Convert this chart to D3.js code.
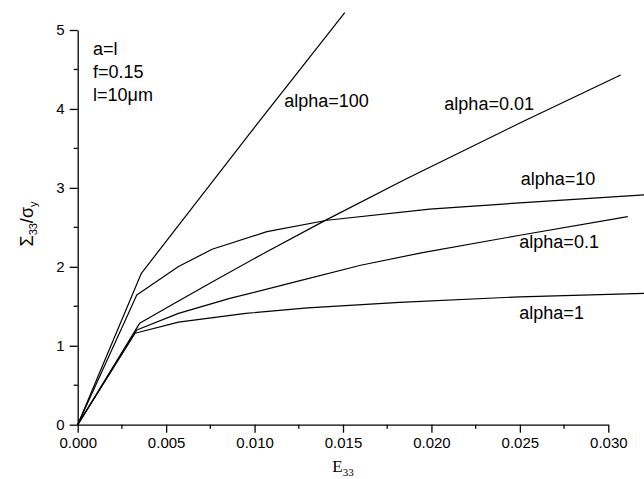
<!DOCTYPE html>
<html>
<head>
<meta charset="utf-8">
<script src="https://cdn.jsdelivr.net/npm/d3@7/dist/d3.min.js"></script>
<style>
  html, body { margin: 0; padding: 0; background: #fff; }
  svg { display: block; }
  text { font-family: "Liberation Sans", Arial, sans-serif; fill: #000; }
</style>
</head>
<body>
<svg id="chart" width="644" height="479"></svg>
<script>
// Macroscopic stress–strain response for several values of alpha
// Each series: [E33, Sigma33/sigma_y] pairs
const alpha100 = [[0, 0], [0.0036, 1.918], [0.0098, 3.71], [0.0151, 5.22]];
const alpha001 = [[0, 0], [0.0035, 1.284], [0.0057, 1.568], [0.0076, 1.809], [0.0104, 2.156],
                  [0.014, 2.588], [0.0185, 3.106], [0.025, 3.821], [0.0307, 4.431]];
const alpha10  = [[0, 0], [0.00334, 1.643], [0.0057, 2.005], [0.0076, 2.222], [0.0107, 2.445],
                  [0.0141, 2.59], [0.0199, 2.73], [0.025, 2.81], [0.0322, 2.915]];
const alpha01  = [[0, 0], [0.00334, 1.20], [0.0057, 1.41], [0.0086, 1.60], [0.0123, 1.81],
                  [0.016, 2.02], [0.0195, 2.18], [0.025, 2.40], [0.0311, 2.635]];
const alpha1   = [[0, 0], [0.00324, 1.158], [0.0057, 1.30], [0.0095, 1.41], [0.013, 1.48],
                  [0.0182, 1.55], [0.025, 1.62], [0.0322, 1.665]];

const seriesNames = ["alpha=100", "alpha=0.01", "alpha=10", "alpha=0.1", "alpha=1"];
const seriesData  = [alpha100, alpha001, alpha10, alpha01, alpha1];
// where each curve's name is written, in data units
const seriesLabelAt = [[0.01168, 4.02], [0.02073, 3.99], [0.02505, 3.04], [0.02497, 2.242], [0.02497, 1.339]];

const xTicks = [0, 0.005, 0.01, 0.015, 0.02, 0.025, 0.03];
const xMinorTicks = [0.0025, 0.0075, 0.0125, 0.0175, 0.0225, 0.0275];
const yTicks = [0, 1, 2, 3, 4, 5];
const yMinorTicks = [0.5, 1.5, 2.5, 3.5, 4.5];

const paramLines = ["a=l", "f=0.15", "l=10\u03bcm"];
const paramAt = [[0.00087, 4.68], [0.00087, 4.39], [0.00087, 4.10]];

const svg = d3.select("#chart");

const x = d3.scaleLinear().domain([0, 0.03]).range([77.7, 608.3]);
const y = d3.scaleLinear().domain([0, 5]).range([424.7, 30]);

// curves
const line = d3.line().x(d => x(d[0])).y(d => y(d[1]));
svg.append("g")
  .selectAll("path")
  .data(seriesData)
  .join("path")
  .attr("d", line)
  .attr("fill", "none")
  .attr("stroke", "#000")
  .attr("stroke-width", 1.2)
  .attr("stroke-linejoin", "round");

// x axis
const gx = svg.append("g").attr("transform", `translate(0,${y(0)})`);
gx.call(d3.axisBottom(x).tickValues(xTicks).tickFormat(d3.format(".3f")).tickSize(8).tickSizeOuter(0).tickPadding(5));
gx.append("g").selectAll("line").data(xMinorTicks).join("line")
  .attr("x1", d => x(d)).attr("x2", d => x(d)).attr("y1", 0).attr("y2", 4)
  .attr("stroke", "#000").attr("stroke-width", 1.3);

// y axis
const gy = svg.append("g").attr("transform", `translate(${x(0)},0)`);
gy.call(d3.axisLeft(y).tickValues(yTicks).tickFormat(d3.format("d")).tickSize(8).tickSizeOuter(0).tickPadding(5));
gy.append("g").selectAll("line").data(yMinorTicks).join("line")
  .attr("y1", d => y(d)).attr("y2", d => y(d)).attr("x1", 0).attr("x2", -4)
  .attr("stroke", "#000").attr("stroke-width", 1.3);

svg.selectAll(".domain").attr("stroke", "#000").attr("stroke-width", 1.3);
svg.selectAll(".tick line").attr("stroke", "#000").attr("stroke-width", 1.3);
svg.selectAll(".tick text")
  .attr("font-family", "'Liberation Sans', Arial, sans-serif")
  .attr("font-size", 15)
  .attr("fill", "#000");

// curve names
svg.append("g").selectAll("text")
  .data(seriesNames)
  .join("text")
  .attr("x", (d, i) => x(seriesLabelAt[i][0]))
  .attr("y", (d, i) => y(seriesLabelAt[i][1]))
  .attr("font-size", 18)
  .text(d => d);

// parameter block
svg.append("g").selectAll("text")
  .data(paramLines)
  .join("text")
  .attr("x", (d, i) => x(paramAt[i][0]))
  .attr("y", (d, i) => y(paramAt[i][1]))
  .attr("font-size", 18)
  .text(d => d);

// x title: E33
const xt = svg.append("text")
  .attr("x", 343).attr("y", 472)
  .attr("text-anchor", "middle")
  .style("font-family", "'Liberation Serif', 'Times New Roman', serif")
  .attr("font-size", 17);
xt.append("tspan").text("E");
xt.append("tspan").attr("dy", 4).attr("font-size", 11).text("33");

// y title: Sigma33 / sigma_y
const yt = svg.append("text")
  .attr("transform", "translate(33,224) rotate(-90)")
  .attr("text-anchor", "middle")
  .attr("font-size", 18);
yt.append("tspan").text("\u03a3");
yt.append("tspan").attr("dy", 4).attr("font-size", 11).text("33");
yt.append("tspan").attr("dy", -4).text("/\u03c3");
yt.append("tspan").attr("dy", 4).attr("font-size", 11).text("y");
</script>
</body>
</html>
